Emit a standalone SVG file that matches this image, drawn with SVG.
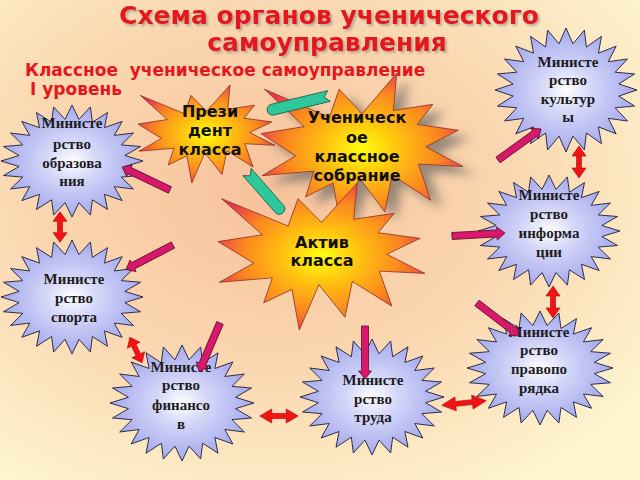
<svg xmlns="http://www.w3.org/2000/svg" width="640" height="480" viewBox="0 0 640 480">
<defs>
<radialGradient id="bg" cx="0.42" cy="0.4" r="0.75">
<stop offset="0" stop-color="#f7c29c"/>
<stop offset="0.5" stop-color="#fad7b0"/>
<stop offset="1" stop-color="#fef7d2"/>
</radialGradient>
<radialGradient id="blueg" cx="0.5" cy="0.5" r="0.5">
<stop offset="0" stop-color="#ffffff"/>
<stop offset="0.35" stop-color="#d6d8f8"/>
<stop offset="1" stop-color="#a4a9ec"/>
</radialGradient>
<radialGradient id="orag" cx="0.5" cy="0.5" r="0.55">
<stop offset="0" stop-color="#ffff10"/>
<stop offset="0.35" stop-color="#ffc010"/>
<stop offset="0.7" stop-color="#fb8620"/>
<stop offset="1" stop-color="#e8344e"/>
</radialGradient>
<filter id="shadow" x="-20%" y="-20%" width="150%" height="150%"><feDropShadow dx="5" dy="5" stdDeviation="3" flood-color="#555" flood-opacity="0.6"/></filter>
<filter id="tshadow" x="-5%" y="-20%" width="115%" height="160%"><feDropShadow dx="2" dy="2" stdDeviation="1" flood-color="#777" flood-opacity="0.5"/></filter>
<polygon id="star24" vector-effect="non-scaling-stroke" points="100,0 74.4,9.8 96.6,25.9 69.3,28.7 86.6,50 59.5,45.7 70.7,70.7 45.7,59.5 50,86.6 28.7,69.3 25.9,96.6 9.8,74.4 0,100 -9.8,74.4 -25.9,96.6 -28.7,69.3 -50,86.6 -45.7,59.5 -70.7,70.7 -59.5,45.7 -86.6,50 -69.3,28.7 -96.6,25.9 -74.4,9.8 -100,0 -74.4,-9.8 -96.6,-25.9 -69.3,-28.7 -86.6,-50 -59.5,-45.7 -70.7,-70.7 -45.7,-59.5 -50,-86.6 -28.7,-69.3 -25.9,-96.6 -9.8,-74.4 0,-100 9.8,-74.4 25.9,-96.6 28.7,-69.3 50,-86.6 45.7,-59.5 70.7,-70.7 59.5,-45.7 86.6,-50 69.3,-28.7 96.6,-25.9 74.4,-9.8"/>
<path id="seal" vector-effect="non-scaling-stroke" d="M50,26.85 L67.23,0 65.53,24.65 85.09,20.63 77.32,33.87 97.67,37.67 81.51,48.5 100,61.53 77.95,59.92 84,83.77 64.91,66.93 61.33,91.38 48.76,69.14 39.28,100 35.72,72.35 22.05,81.56 26.24,64.52 0.63,67.53 17.23,54.51 0,39.88 21.42,35.26 1.71,10.63 33.85,29.26 38.67,10.63 Z"/>
<polygon id="parrow" points="0,-3.5 45,-3.5 45,-6.5 53,0 45,6.5 45,3.5 0,3.5"/>
<polygon id="darrow" vector-effect="non-scaling-stroke" points="-16,0 -6,-7 -6,-2.5 6,-2.5 6,-7 16,0 6,7 6,2.5 -6,2.5 -6,7"/>
</defs>
<style>
.bstar { fill:url(#blueg); stroke:#2e2e4a; stroke-width:1; }
.ostar { fill:url(#orag); stroke:#8a3020; stroke-width:0.8; }
.btext { font-family:"Liberation Serif","Times New Roman",serif; font-weight:bold; font-size:15px; fill:#1c1c1c; text-anchor:middle; }
.otext { font-family:"DejaVu Sans",Verdana,sans-serif; font-weight:bold; font-size:16px; fill:#111; text-anchor:middle; }
.title { font-family:"DejaVu Sans",Verdana,sans-serif; font-weight:bold; fill:#e5161c; }
.pink { fill:#d8186a; stroke:#5e0c2c; stroke-width:0.8; }
.teal { fill:#2fc79c; stroke:#185a48; stroke-width:0.8; }
.red { fill:#f01414; stroke:#b00000; stroke-width:0.6; }
</style>
<rect width="640" height="480" fill="url(#bg)"/>

<g id="title" filter="url(#tshadow)">
<text class="title" x="329" y="24" font-size="25" text-anchor="middle">Схема органов ученического</text>
<text class="title" x="327" y="51" font-size="25" text-anchor="middle">самоуправления</text>
</g>
<g id="subtitle">
<text class="title" x="25" y="76" font-size="17" xml:space="preserve">Классное  ученическое самоуправление</text>
<text class="title" x="30" y="95" font-size="17">I уровень</text>
</g>

<g id="min-kultury">
<use href="#star24" class="bstar" transform="translate(566,90) scale(0.71,0.62)"/>
<text class="btext" x="568"><tspan x="568" y="67">Министе</tspan><tspan x="568" y="85">рство</tspan><tspan x="568" y="104">культур</tspan><tspan x="568" y="122">ы</tspan></text>
</g>
<g id="min-obrazovaniya">
<use href="#star24" class="bstar" transform="translate(72,161) scale(0.71,0.56)"/>
<text class="btext" x="72"><tspan x="72" y="128">Министе</tspan><tspan x="72" y="149">рство</tspan><tspan x="72" y="168">образова</tspan><tspan x="72" y="186">ния</tspan></text>
</g>
<g id="min-sporta">
<use href="#star24" class="bstar" transform="translate(72,297) scale(0.71,0.57)"/>
<text class="btext" x="74"><tspan x="74" y="284">Министе</tspan><tspan x="74" y="303">рство</tspan><tspan x="74" y="322">спорта</tspan></text>
</g>
<g id="min-finansov">
<use href="#star24" class="bstar" transform="translate(182,403) scale(0.72,0.58)"/>
<text class="btext" x="181"><tspan x="181" y="372">Министе</tspan><tspan x="181" y="390">рство</tspan><tspan x="181" y="410">финансо</tspan><tspan x="181" y="429">в</tspan></text>
</g>
<g id="min-truda">
<use href="#star24" class="bstar" transform="translate(372,397) scale(0.72,0.58)"/>
<text class="btext" x="373"><tspan x="373" y="385">Министе</tspan><tspan x="373" y="404">рство</tspan><tspan x="373" y="422">труда</tspan></text>
</g>
<g id="min-pravoporyadka">
<use href="#star24" class="bstar" transform="translate(540,368) scale(0.73,0.57)"/>
<text class="btext" x="539"><tspan x="539" y="337">Министе</tspan><tspan x="539" y="355">рство</tspan><tspan x="539" y="374">правопо</tspan><tspan x="539" y="393">рядка</tspan></text>
</g>
<g id="min-informacii">
<use href="#star24" class="bstar" transform="translate(549,231) scale(0.71,0.56)"/>
<text class="btext" x="549"><tspan x="549" y="200">Министе</tspan><tspan x="549" y="219">рство</tspan><tspan x="549" y="238">информа</tspan><tspan x="549" y="257">ции</tspan></text>
</g>

<g id="prezident">
<use href="#seal" class="ostar" transform="translate(138,85) scale(1.37,0.98)"/>
<text class="otext"><tspan x="210" y="117">Прези</tspan><tspan x="210" y="136">дент</tspan><tspan x="210" y="155">класса</tspan></text>
</g>
<g id="sobranie">
<use href="#seal" class="ostar" filter="url(#shadow)" transform="translate(261,73) scale(2.02,1.52)"/>
<text class="otext"><tspan x="357" y="123">Ученическ</tspan><tspan x="357" y="143">ое</tspan><tspan x="357" y="162">классное</tspan><tspan x="357" y="181">собрание</tspan></text>
</g>
<g id="aktiv">
<use href="#seal" class="ostar" transform="translate(218,183) scale(2.07,1.47)"/>
<text class="otext"><tspan x="322" y="248">Актив</tspan><tspan x="322" y="266">класса</tspan></text>
</g>

<g id="connectors">
<path class="teal" transform="translate(329,96) rotate(166.4)" d="M0,-5.5 L58,-5.5 A5.5,5.5 0 0 1 58,5.5 L0,5.5 L5,0 Z"/>
<path class="teal" transform="translate(247,172) rotate(48.7)" d="M0,-5.5 L49,-5.5 A5.5,5.5 0 0 1 49,5.5 L0,5.5 L5,0 Z"/>
<use href="#parrow" class="pink" transform="translate(170,190) rotate(-154.4)"/>
<use href="#parrow" class="pink" transform="translate(173,245) rotate(152.5)"/>
<use href="#parrow" class="pink" transform="translate(220,323) rotate(113.2)"/>
<use href="#parrow" class="pink" transform="translate(365,326) rotate(90)"/>
<use href="#parrow" class="pink" transform="translate(477,303) rotate(37.5)"/>
<use href="#parrow" class="pink" transform="translate(452,236) rotate(-3.2)"/>
<use href="#parrow" class="pink" transform="translate(498,160) rotate(-35.8)"/>
<use href="#darrow" class="red" transform="translate(60,227) rotate(90) scale(0.95,1)"/>
<use href="#darrow" class="red" transform="translate(136,350) rotate(64.4) scale(0.88,1)"/>
<use href="#darrow" class="red" transform="translate(279,416) scale(1.2,1)"/>
<use href="#darrow" class="red" transform="translate(464,403) rotate(-6) scale(1.4,1)"/>
<use href="#darrow" class="red" transform="translate(553,302) rotate(90)"/>
<use href="#darrow" class="red" transform="translate(579,162) rotate(90)"/>
</g>
</svg>
